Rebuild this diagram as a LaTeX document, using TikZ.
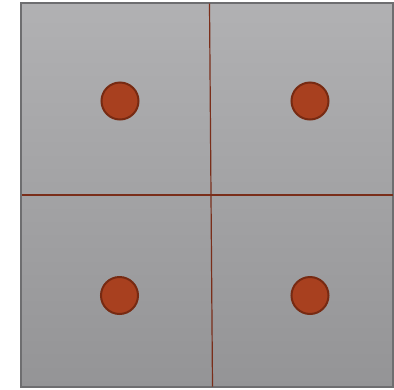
\documentclass[tikz,border=0pt]{standalone}
\definecolor{topgray}{HTML}{B1B1B3}
\definecolor{botgray}{HTML}{949496}
\definecolor{frame}{HTML}{6E6E70}
\definecolor{divline}{HTML}{7A2E1A}
\definecolor{dotfill}{HTML}{A8401F}
\definecolor{dotedge}{HTML}{772A12}
\tikzset{
  dot/.style={circle, minimum size=37pt, inner sep=0pt, fill=dotfill, draw=dotedge, line width=2pt},
  divider/.style={draw=divline, line width=1.2pt}
}
\begin{document}
\begin{tikzpicture}[x=1pt,y=-1pt]
\useasboundingbox (0,0) rectangle (394,389);
\shade[top color=topgray, bottom color=botgray] (21,3) rectangle (393,387);
\draw[frame, line width=1.2pt] (21,3) rectangle (393,387);
\coordinate (vt) at (209.5,3.5);
\coordinate (vb) at (212.5,386.5);
\coordinate (hl) at (21.5,195);
\coordinate (hr) at (392.5,195);
\draw[divider] (vt) -- (vb);
\draw[divider] (hl) -- (hr);
\node[dot] (d1) at (120,101) {};
\node[dot] (d2) at (310,101) {};
\node[dot] (d3) at (119.5,295.5) {};
\node[dot] (d4) at (310,295.5) {};
\end{tikzpicture}
\end{document}
